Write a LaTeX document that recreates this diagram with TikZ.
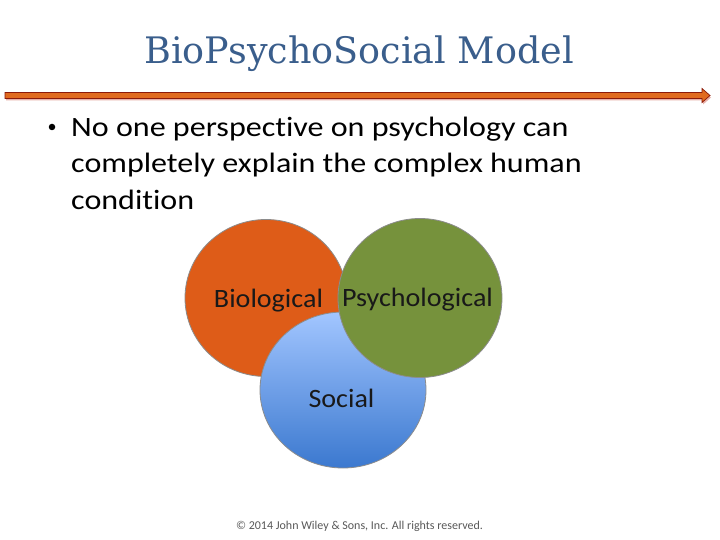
\documentclass[tikz,border=0pt]{standalone}
\usepackage{fontspec}
\setmainfont[Ligatures=NoCommon]{Carlito}
\newfontfamily\bodyfont[Ligatures=NoCommon,FakeStretch=1.145]{Carlito}
\newfontfamily\vennfont[Ligatures=NoCommon,FakeStretch=1.06]{Carlito}
\newfontfamily\titlefont{DejaVu Serif}
\definecolor{titleblue}{HTML}{3A5E8C}
\definecolor{arroworange}{HTML}{E06A1E}
\definecolor{arrowedge}{HTML}{8B1A0A}
\definecolor{arrowshadow}{HTML}{E8B0A8}
\definecolor{bioorange}{HTML}{DE5C18}
\definecolor{psygreen}{HTML}{76923C}
\definecolor{soctop}{HTML}{A2C6FF}
\definecolor{socbot}{HTML}{3B78CF}
\definecolor{circedge}{HTML}{8C8C8C}
\tikzset{
  venn/.style={draw=circedge, line width=0.8pt},
  vlabel/.style={font=\vennfont\fontsize{26.5}{30}\selectfont, text=black!90, anchor=base, inner sep=0pt},
  bodyline/.style={font=\bodyfont\fontsize{28}{36}\selectfont, anchor=base west, inner sep=0pt},
}
\begin{document}
\begin{tikzpicture}[x=1pt,y=-1pt]
\useasboundingbox (0,0) rectangle (720,540);
\fill[white] (0,0) rectangle (720,540);
% title
\node[font=\titlefont\fontsize{36.5}{40}\selectfont, text=titleblue, anchor=base, inner sep=0pt] (title) at (359,64) {BioPsychoSocial Model};
% arrow shadow and arrow
\fill[arrowshadow] (6,94.5) -- (703,94.5) -- (703,90.5) -- (711,97.5) -- (703,104.5) -- (703,100.5) -- (6,100.5) -- cycle;
\filldraw[fill=arroworange, draw=arrowedge, line width=0.7pt] (5,92.5) -- (702,92.5) -- (702,88.5) -- (710,95.5) -- (702,102.5) -- (702,98.5) -- (5,98.5) -- cycle;
% bullet text
\node[circle, fill=black, inner sep=0pt, minimum size=6.5pt] (bullet) at (52,127) {};
\node[bodyline] (body1) at (71,136.5) {No one perspective on psychology can};
\node[bodyline] (body2) at (71,173) {completely explain the complex human};
\node[bodyline] (body3) at (71,209.5) {condition};
% venn
\path[venn, fill=bioorange] (266,298) ellipse [x radius=81, y radius=78.5];
\path[venn, top color=soctop, bottom color=socbot] (343,390) ellipse [x radius=83, y radius=78];
\path[venn, fill=psygreen] (420,298) ellipse [x radius=82, y radius=79.5];
\node[vlabel] (bio) at (268.5,307) {Biological};
\node[vlabel] (psy) at (417.5,306.5) {Psychological};
\node[vlabel] (soc) at (341.5,407) {Social};
% copyright
\node[font=\fontsize{12}{14}\selectfont, text=black!65, anchor=base, inner sep=0pt] (copy) at (359.5,529) {© 2014 John Wiley \& Sons, Inc. All rights reserved.};
\end{tikzpicture}
\end{document}
